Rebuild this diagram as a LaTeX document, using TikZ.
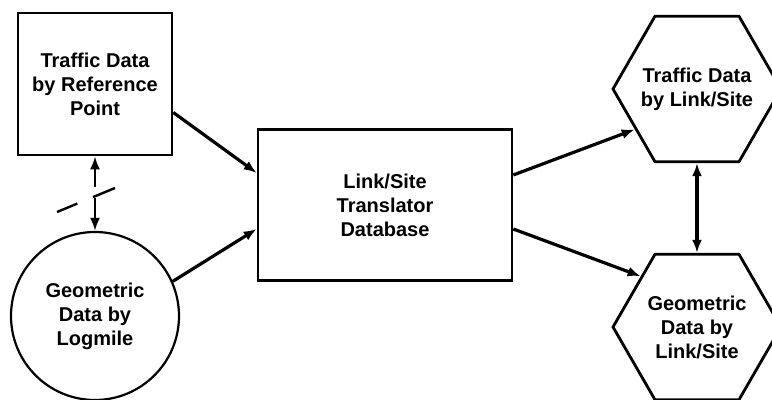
\documentclass[tikz,border=0pt]{standalone}
\usepackage{fontspec}
\setmainfont{Liberation Sans}
\usepackage{tikz}
\usetikzlibrary{arrows.meta,shapes.geometric}
\tikzset{>={Latex[length=6.5pt,width=5pt]}}
\tikzset{
  datbox/.style={draw, line width=1.3pt, align=center, font=\bfseries, inner sep=0pt},
  datcirc/.style={datbox, circle, line width=1.1pt, minimum size=84pt},
  dathex/.style={draw, regular polygon, regular polygon sides=6, line width=1.4pt, minimum size=84pt, inner sep=0pt},
  hextext/.style={align=center, font=\bfseries},
  flow/.style={->, line width=1.6pt},
  link/.style={->, line width=1.2pt}
}

\begin{document}
\begin{tikzpicture}[x=0.5pt,y=-0.5pt]
          \useasboundingbox (0,0) rectangle (772,400);
          \node[datbox, minimum width=77pt, minimum height=71pt] at (95,84) (refpt)
          {Traffic Data\\by Reference\\Point};
          \node[datcirc] at (95,316) (logmile)
          {Geometric\\Data by\\Logmile};
          \node[datbox, minimum width=127pt, minimum height=75.5pt] at (385,205) (db)
          {Link/Site\\Translator\\Database};
          \node[dathex, label={[hextext]center:{Traffic Data\\by Link/Site}}] at (697,89) (trafficlink) {};
          \node[dathex, label={[hextext]center:{Geometric\\Data by\\Link/Site}}] at (697,327) (geolink) {};
          % broken link between the two inputs
          \coordinate (brkA) at (95,187);
          \coordinate (brkB) at (95,198);
          \coordinate (slashA) at (57,212);
          \coordinate (slashB) at (115,188);
          \draw[link] (brkA) to (refpt);
          \draw[link] (brkB) to (logmile);
          \draw[line width=1.2pt, dash pattern=on 11pt off 8.5pt on 13pt] (slashA) -- (slashB);
          \draw[flow] (refpt.-20.6) to ([yshift=16pt]db.west);
          \draw[flow] (logmile.24) to ([yshift=-12pt]db.west);
          \draw[flow] ([yshift=15pt]db.east) to (trafficlink.213);
          \draw[flow] ([yshift=-12pt]db.east) to (geolink.138);
          \draw[<->, line width=1.6pt] (trafficlink) to (geolink);
        \end{tikzpicture}
\end{document}
